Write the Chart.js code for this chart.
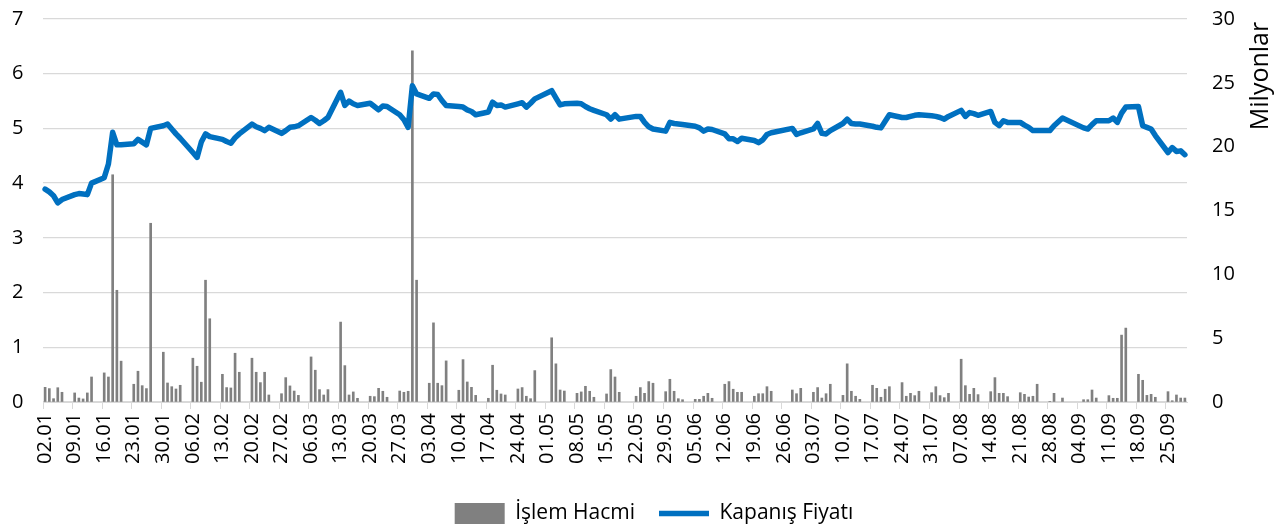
<!DOCTYPE html>
<html>
<head>
<meta charset="utf-8">
<script src="https://cdn.jsdelivr.net/npm/chart.js@4.4.1/dist/chart.umd.min.js"></script>
<style>
  html, body { margin: 0; padding: 0; background: #fff; overflow: hidden; }
  #wrap { width: 1282px; height: 524px; overflow: hidden; }
</style>
</head>
<body>
<div id="wrap"><canvas id="chart" width="1282" height="534"></canvas></div>
<script>
// one row per week (Mon..Fri), null = market closed
const weekStarts = ['02.01', '09.01', '16.01', '23.01', '30.01', '06.02', '13.02', '20.02', '27.02', '06.03',
    '13.03', '20.03', '27.03', '03.04', '10.04', '17.04', '24.04', '01.05', '08.05', '15.05',
    '22.05', '29.05', '05.06', '12.06', '19.06', '26.06', '03.07', '10.07', '17.07', '24.07',
    '31.07', '07.08', '14.08', '21.08', '28.08', '04.09', '11.09', '18.09', '25.09'];

const closePrice = [
    [3.89, 3.84, 3.77, 3.64, 3.70], [3.79, 3.81, 3.80, 3.79, 4.00], [4.10, 4.35, 4.93, 4.70, 4.70],
    [4.72, 4.80, 4.75, 4.70, 5.00], [5.05, 5.08, 4.99, 4.90, 4.82], [4.56, 4.47, 4.75, 4.90, 4.85],
    [4.80, 4.76, 4.73, 4.83, 4.90], [5.08, 5.03, 5.00, 4.96, 5.02], [4.91, 4.96, 5.02, 5.03, 5.05],
    [5.20, 5.15, 5.09, 5.14, 5.20], [5.66, 5.42, 5.50, 5.45, 5.42], [5.46, 5.40, 5.34, 5.41, 5.40],
    [5.25, 5.16, 5.02, 5.78, 5.63], [5.55, 5.63, 5.62, 5.51, 5.42], [5.40, 5.39, 5.34, 5.31, 5.25],
    [5.30, 5.48, 5.42, 5.43, 5.39], [5.45, 5.47, 5.39, 5.46, 5.54], [null, 5.69, 5.56, 5.43, 5.45],
    [5.46, 5.45, 5.40, 5.36, 5.33], [5.25, 5.17, 5.25, 5.17, null], [5.22, 5.22, 5.11, 5.03, 4.99],
    [4.95, 5.11, 5.09, 5.08, 5.07], [5.04, 5.01, 4.95, 4.99, 4.98], [4.90, 4.81, 4.81, 4.76, 4.82],
    [4.78, 4.74, 4.79, 4.89, 4.92], [null, null, 5.00, 4.89, 4.92], [4.99, 5.09, 4.91, 4.90, 4.96],
    [5.09, 5.17, 5.09, 5.08, 5.08], [5.04, 5.02, 5.01, 5.13, 5.25], [5.20, 5.20, 5.22, 5.24, 5.25],
    [5.23, 5.22, 5.20, 5.17, 5.22], [5.33, 5.22, 5.29, 5.27, 5.24], [5.31, 5.11, 5.05, 5.14, 5.11],
    [5.11, 5.06, 5.02, 4.96, 4.96], [4.96, 5.05, null, 5.19, null], [null, 5.01, 4.99, 5.07, 5.14],
    [5.14, 5.19, 5.11, 5.28, 5.39], [5.40, 5.05, 5.02, 4.99, 4.87], [4.56, 4.65, 4.58, 4.59, 4.52]
];

// millions
const volume = [
    [1.15, 1.05, 0.26, 1.12, 0.76], [0.71, 0.31, 0.24, 0.71, 1.96], [2.28, 1.96, 17.8, 8.75, 3.2],
    [1.39, 2.41, 1.28, 1.05, 14.0], [3.9, 1.49, 1.2, 1.02, 1.31], [3.43, 2.8, 1.55, 9.54, 6.52],
    [2.17, 1.13, 1.1, 3.82, 2.33], [3.43, 2.33, 1.52, 2.33, 0.55], [0.65, 1.91, 1.26, 0.86, 0.52],
    [3.53, 2.49, 0.97, 0.55, 0.97], [6.26, 2.85, 0.55, 0.79, 0.29], [0.45, 0.42, 1.07, 0.84, 0.37],
    [0.86, 0.76, 0.84, 27.5, 9.54], [1.47, 6.2, 1.47, 1.28, 3.22], [0.92, 3.32, 1.57, 1.15, 0.52],
    [0.29, 2.88, 0.92, 0.63, 0.55], [1.02, 1.13, 0.45, 0.26, 2.46], [null, 5.03, 2.99, 0.94, 0.86],
    [0.68, 0.79, 1.23, 0.84, 0.37], [0.63, 2.54, 1.96, 0.76, null], [0.45, 1.13, 0.68, 1.6, 1.47],
    [0.81, 1.78, 0.84, 0.26, 0.18], [0.21, 0.21, 0.45, 0.68, 0.29], [1.39, 1.6, 1.0, 0.76, 0.76],
    [0.45, 0.65, 0.65, 1.2, 0.84], [null, null, 0.94, 0.65, 1.07], [0.76, 1.13, 0.31, 0.65, 1.39],
    [0.52, 2.99, 0.84, 0.45, 0.21], [1.31, 1.07, 0.37, 1.0, 1.2], [1.52, 0.45, 0.68, 0.5, 0.84],
    [0.73, 1.2, 0.5, 0.34, 0.68], [3.35, 1.28, 0.6, 1.07, 0.58], [0.81, 1.91, 0.68, 0.68, 0.42],
    [0.73, 0.6, 0.39, 0.45, 1.39], [0.03, 0.68, null, 0.31, null], [null, 0.18, 0.18, 0.94, 0.31],
    [0.5, 0.29, 0.29, 5.24, 5.79], [2.17, 1.7, 0.52, 0.6, 0.37], [0.81, 0.1, 0.55, 0.31, 0.31]
];

const font = "'Open Sans', sans-serif";
const grey = '#d9d9d9';

// calendar days on the axis, weekends empty; the axis stops on Fri 29.09
const dayLabels = [];
const priceDaily = [];
const volumeDaily = [];
weekStarts.forEach((w, wi) => {
    const n = wi === weekStarts.length - 1 ? 5 : 7;
    for (let k = 0; k < n; k++) {
        const d = new Date(2017, 0, 2 + wi * 7 + k);
        dayLabels.push(String(d.getDate()).padStart(2, '0') + '.' + String(d.getMonth() + 1).padStart(2, '0'));
        priceDaily.push(k < 5 ? closePrice[wi][k] : null);
        volumeDaily.push(k < 5 ? volume[wi][k] : null);
    }
});

const rightTitle = {
    id: 'rightTitle',
    afterDraw(chart) {
        const { ctx, chartArea } = chart;
        ctx.save();
        ctx.translate(chartArea.right + 74, chartArea.top + 57);
        ctx.rotate(-Math.PI / 2);
        ctx.font = "25px " + font;
        ctx.fillStyle = '#000';
        ctx.textAlign = 'center';
        ctx.textBaseline = 'middle';
        ctx.fillText('Milyonlar', 0, 0);
        ctx.restore();
    }
};

new Chart(document.getElementById('chart'), {
    data: {
        labels: dayLabels,
        datasets: [
            {
                type: 'bar',
                label: 'İşlem Hacmi',
                data: volumeDaily,
                backgroundColor: '#808080',
                barThickness: 2,
                yAxisID: 'y2',
                pointStyle: 'rect',
                order: 1
            },
            {
                type: 'line',
                label: 'Kapanış Fiyatı',
                data: priceDaily,
                borderColor: '#0070c0',
                backgroundColor: '#0070c0',
                borderWidth: 5.5,
                borderJoinStyle: 'round',
                borderCapStyle: 'round',
                pointRadius: 0,
                spanGaps: true,
                tension: 0,
                yAxisID: 'y',
                pointStyle: 'line',
                order: 0
            }
        ]
    },
    options: {
        responsive: false,
        animation: false,
        layout: { padding: { top: 19, left: 26, right: 0, bottom: 0 } },
        plugins: {
            legend: {
                position: 'bottom',
                labels: {
                    usePointStyle: true,
                    pointStyleWidth: 50,
                    boxHeight: 21,
                    padding: 24,
                    color: '#000',
                    font: { family: font, size: 21 },
                    sort: (a, b) => a.datasetIndex - b.datasetIndex
                }
            },
            tooltip: { enabled: false }
        },
        scales: {
            x: {
                offset: true,
                grid: {
                    offset: true,
                    drawOnChartArea: false,
                    drawTicks: true,
                    tickLength: 7,
                    color: (c) => (c.index % 7 === 0 ? grey : 'rgba(0,0,0,0)')
                },
                border: { display: true, color: grey },
                ticks: {
                    autoSkip: false,
                    minRotation: 90,
                    maxRotation: 90,
                    padding: 4,
                    color: '#000',
                    font: { family: font, size: 20 },
                    callback: (v, i) => (i % 7 === 0 ? weekStarts[i / 7] : '')
                },
                afterFit: (s) => { s.height = 77; }
            },
            y: {
                position: 'left',
                min: 0,
                max: 7,
                ticks: { stepSize: 1, mirror: true, padding: -31, color: '#000', font: { family: font, size: 20 } },
                grid: { color: grey, lineWidth: 1.3, drawTicks: false },
                border: { display: false },
                afterFit: (s) => { s.width = 17; }
            },
            yGap: {
                type: 'linear',
                position: 'right',
                weight: 0,
                grid: { display: false, drawTicks: false },
                ticks: { display: false },
                border: { display: false },
                afterFit: (s) => { s.width = 25; }
            },
            y2: {
                position: 'right',
                weight: 1,
                min: 0,
                max: 30,
                ticks: { stepSize: 5, padding: 0, color: '#000', font: { family: font, size: 20 } },
                grid: { drawOnChartArea: false, drawTicks: false },
                border: { display: false },
                afterFit: (s) => { s.width = 70; }
            }
        }
    },
    plugins: [rightTitle]
});
</script>
</body>
</html>
